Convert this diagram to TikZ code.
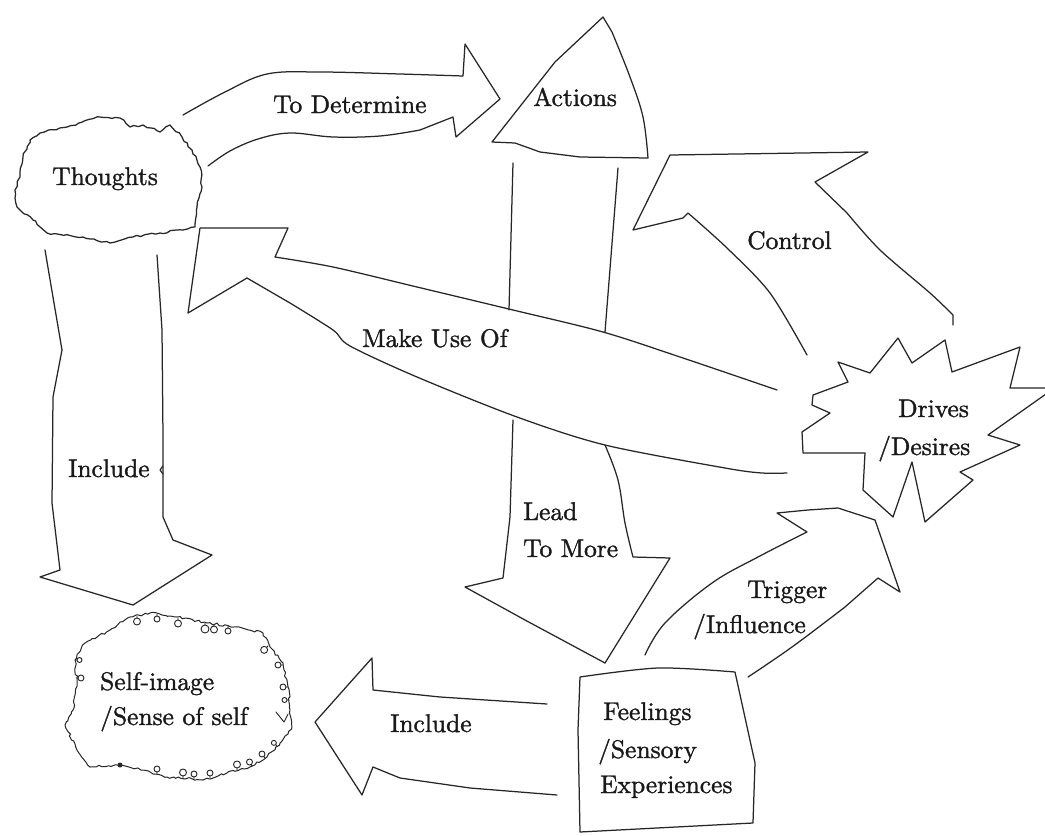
\documentclass[tikz,border=0pt]{standalone}
\usetikzlibrary{decorations.pathmorphing}
\font\lmtext="[lmroman10-regular]:mapping=tex-text;embolden=1.3" at 25.5pt
\begin{document}
\begin{tikzpicture}[x=1pt,y=-1pt,
  ln/.style={line width=1.25pt, line join=round, line cap=round, draw=black!85},
  lbl/.style={font=\lmtext, inner sep=0pt, anchor=base west, text=black!90},
  rough/.style={ln, decorate, decoration={random steps, segment length=4pt, amplitude=1.1pt}},
  wobble/.style={ln, line width=1pt, decorate, decoration={random steps, segment length=3pt, amplitude=1.2pt}},
  loop/.style={ln, line width=0.9pt}]
\pgfmathsetseed{7}
\useasboundingbox (0,0) rectangle (1045,836);
\fill[white] (0,0) rectangle (1045,836);

% ---------- Thoughts cloud
\draw[rough] (30,140) -- (40,133) -- (67,127) -- (100,117) -- (120,118) -- (130,127) -- (143,125) -- (160,132) -- (170,125) -- (182,137) -- (192,150) -- (200,167) -- (202,187) -- (197,207) -- (195,227) -- (183,230) -- (160,233) -- (133,237) -- (110,243) -- (83,237) -- (47,233) -- (33,220) -- (17,207) -- (15,190) -- (20,177) -- (23,157) -- cycle;
\node[lbl] (thoughts) at (52,185) {Thoughts};

% ---------- To Determine arrow
\draw[ln] plot[smooth, tension=0.6] coordinates {(183,115) (225,92) (267,74) (320,72) (400,74) (463,76)}
  -- (465,44) -- (500,99) -- (456,137) -- (453,117)
  -- plot[smooth, tension=0.6] coordinates {(420,130) (380,136) (333,137) (290,133) (258,139) (230,151) (208,166)};
\node[lbl] (todet) at (273,113) {To Determine};

% ---------- Actions triangle
\draw[ln] (492,142) -- (555,62) -- (603,17)
  -- plot[smooth, tension=0.6] coordinates {(612,32) (630,77) (643,117) (648,158)}
  -- (580,157) -- (540,152) -- (515,143) -- cycle;
\node[lbl] (actions) at (533,106) {Actions};

% ---------- shaft from Actions down to "Lead To More"
\draw[ln] (513,163) -- (509,310);
\draw[ln] (618,168) -- (605,332);
\draw[ln] (513,420) -- (510,517) -- (503,578) -- (465,587) -- (525,620) -- (605,663);
\draw[ln] plot[smooth, tension=0.6] coordinates {(605,445) (618,480) (625,523) (633,557)}
  -- (670,558) -- (605,663);
\node[lbl] (lead1) at (523,520) {Lead};
\node[lbl] (lead2) at (523,557) {To More};

% ---------- Make Use Of band
\draw[ln] plot[smooth, tension=0.5] coordinates {(777,390) (680,357) (603,332) (513,310) (417,287) (333,267) (275,257)}
  -- (288,228) -- (200,228) -- (188,313) -- (247,278)
  -- plot[smooth, tension=0.5] coordinates {(290,303) (333,330) (350,346) (417,377) (517,417) (605,445) (725,468) (762,473) (787,473)};
\node[lbl] (makeuse) at (362,347) {Make Use Of};

% ---------- Control arrow
\draw[ln] plot[smooth, tension=0.5] coordinates {(807,355) (770,293) (727,248) (688,213)}
  -- (683,218) -- (633,230) -- (670,155) -- (868,152) -- (815,182)
  -- plot[smooth, tension=0.5] coordinates {(847,213) (880,250) (930,293) (953,315)} -- (953,325);
\node[lbl] (control) at (747,249) {Control};

% ---------- Drives / Desires
\draw[ln] (838,362) -- (870,373) -- (898,338) -- (912,363) -- (945,340) -- (952,372) -- (1020,347) -- (1010,388) -- (1046,388)
  (1046,394) -- (988,435) -- (1020,445) -- (960,472) -- (973,480) -- (925,522) -- (912,462) -- (893,517) -- (863,490) -- (865,453)
  -- (803,453) -- (802,432) -- (830,413) -- (812,405) -- (813,395) -- (848,382) -- (838,362);
\node[lbl] (drives1) at (898,417) {Drives};
\node[lbl] (drives2) at (878,455) {/Desires};

% ---------- Trigger / Influence arrow
\draw[ln] plot[smooth, tension=0.6] coordinates {(645,655) (665,623) (712,583) (758,557) (807,532)}
  -- (777,513) -- (808,510) -- (838,508) -- (875,520) -- (900,592) -- (878,578)
  -- plot[smooth, tension=0.6] coordinates {(845,607) (792,647) (748,677)};
\node[lbl] (trig1) at (747,598) {Trigger};
\node[lbl] (trig2) at (693,633) {/Influence};

% ---------- Feelings box
\draw[ln] plot[smooth, tension=0.5] coordinates {(580,677) (658,668) (735,672)}
  -- (755,763) -- (753,823) -- (580,832) -- (578,730) -- cycle;
\node[lbl] (feel1) at (603,720) {Feelings};
\node[lbl] (feel2) at (598,758) {/Sensory};
\node[lbl] (feel3) at (600,793) {Experiences};

% ---------- Include (bottom) arrow
\draw[ln] (547,704) -- (440,697) -- (373,690) -- (372,658) -- (315,722) -- (362,795) -- (373,767) -- (400,778) -- (470,788) -- (557,795);
\node[lbl] (incl2) at (390,732) {Include};

% ---------- Include (vertical) arrow
\draw[ln] (45,250) -- (62,350) -- (53,397) -- (52,503) -- (60,570) -- (40,577) -- (133,605) -- (212,555) -- (173,540) -- (163,517) -- (163,437) -- (162,330) -- (157,255);
\draw[ln] (163,466) -- (160,470) -- (163,474);
\node[lbl] (incl1) at (68,477) {Include};

% ---------- Self-image cloud
\draw[wobble] (85,643) -- (110,630) -- (130,617) -- (150,613) -- (177,617) -- (207,623) -- (237,627) -- (263,633) -- (270,647) -- (283,663) -- (288,687) -- (290,710) -- (292,727) -- (280,743) -- (267,757) -- (250,767) -- (227,773) -- (203,780) -- (167,777) -- (143,770) -- (117,765) -- (90,767) -- (77,750) -- (65,725) -- (73,710) -- (77,683) -- (75,660) -- cycle;
\foreach \px/\py/\dx/\dy/\r in {137/616/0/1/3.5, 157/614/0/1/3, 178/618/0/1/3.5, 205/623/0/1/4, 214/624/0/1/3.5, 228/626/0/1/3,
  268/646/-0.7/0.7/3.5, 283/665/-1/0/3, 288/687/-1/0/3, 289/700/-1/0/2.5,
  157/774/0/-1/3, 183/778/0/-1/3.5, 194/779/0/-1/3, 210/778/0/-1/3, 237/770/0/-1/3.5, 252/766/-0.5/-0.8/3, 265/758/-0.6/-0.8/3, 277/746/-0.7/-0.7/2.5,
  76/678/1/0/3, 75/660/1/0/2.5}
  \draw[loop] (\px,\py) -- ++({2*\dx},{2*\dy}) ++({\r*\dx},{\r*\dy}) circle (\r);
\fill[black!85] (120,765) circle (2.5);
\draw[loop] (276,712) -- (284,722) -- (288,714);
\node[lbl] (self1) at (100,690) {Self-image};
\node[lbl] (self2) at (100,725) {/Sense of self};
\end{tikzpicture}
\end{document}
